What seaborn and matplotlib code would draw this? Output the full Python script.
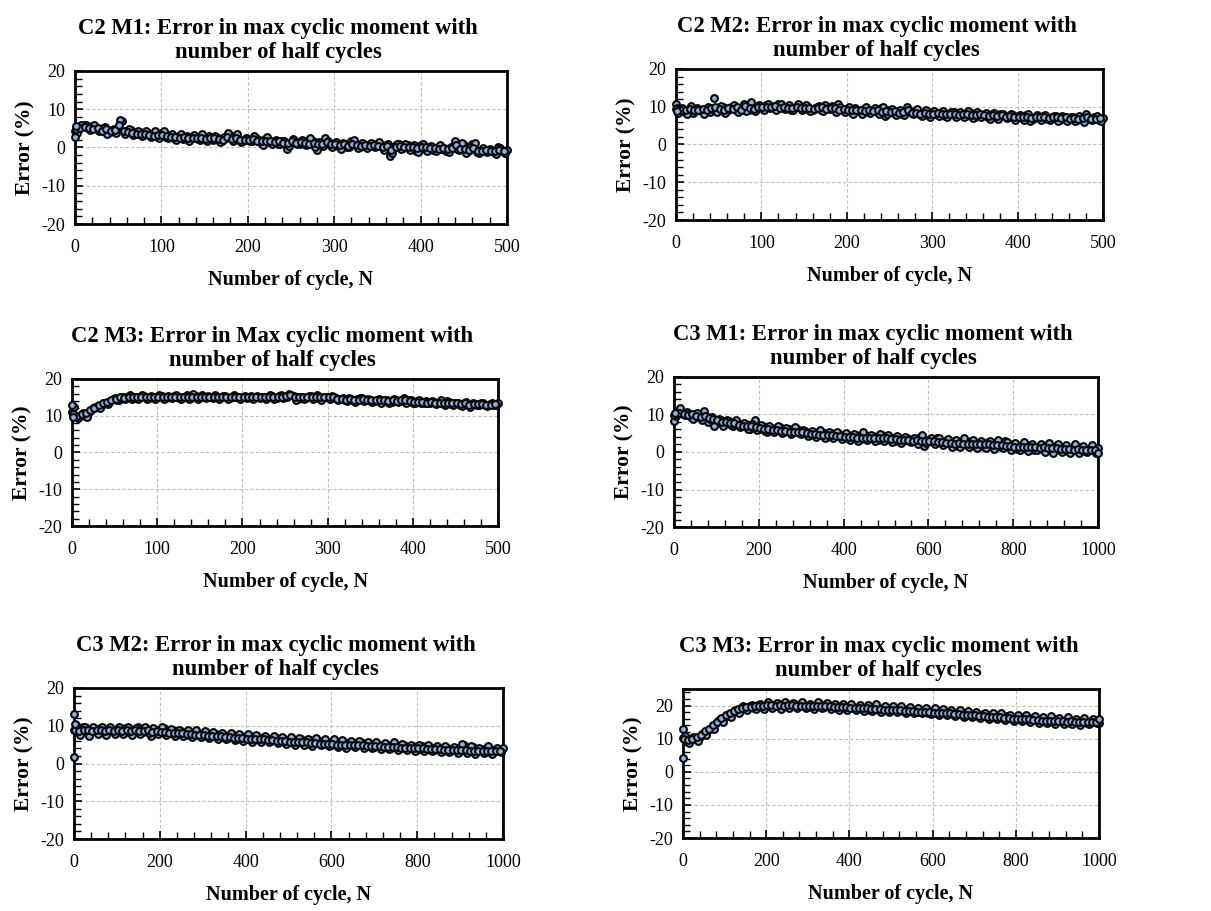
import numpy as np
import pandas as pd
import matplotlib
matplotlib.use("Agg")
import matplotlib.pyplot as plt
from matplotlib.ticker import MultipleLocator
import seaborn as sns

# ---------------- data ----------------
titles = [
    "C2 M1: Error in max cyclic moment with\nnumber of half cycles",
    "C2 M2: Error in max cyclic moment with\nnumber of half cycles",
    "C2 M3: Error in Max cyclic moment with\nnumber of half cycles",
    "C3 M1: Error in max cyclic moment with\nnumber of half cycles",
    "C3 M2: Error in max cyclic moment with\nnumber of half cycles",
    "C3 M3: Error in max cyclic moment with\nnumber of half cycles",
]
x_label = "Number of cycle, N"
y_label = "Error (%)"

# three interleaved samplings of the cycle axis
c2_cycles_a = np.arange(0, 501, 5)
c2_cycles_b = np.arange(2.5, 500, 5)
c2_cycles_c = np.arange(1.25, 500, 5)
c3_cycles_a = np.arange(0, 1001, 10)
c3_cycles_b = np.arange(5, 1000, 10)
c3_cycles_c = np.arange(2.5, 1000, 10)

c2m1_a = [4.2, 5.3, 5.8, 5.0, 5.6, 5.2, 4.6, 5.4, 4.0, 4.8, 5.0, 6.8, 4.2, 4.6, 3.6, 4.0, 3.2, 3.8, 3.0, 3.6,
          3.8, 2.8, 3.2, 2.6, 3.0, 2.2, 3.0, 2.4, 2.8, 2.0, 2.6, 3.0, 2.0, 2.6, 1.8, 2.4, 3.2, 2.6, 2.0, 1.6,
          2.2, 1.8, 2.6, 1.2, 2.2, 1.4, 1.8, 1.0, 1.6, -0.4, 1.4, 1.8, 0.8, 1.6, 1.0, 1.8, -0.6, 1.2, 2.4, 0.6,
          1.0, 0.4, 1.2, 0.2, 1.6, 0.6, 0.2, 1.0, 0.4, 0.8, 1.0, 0.2, 0.6, -2.2, 0.4, 0.8, -0.2, 0.6, 0.0, -0.8,
          0.6, -0.4, 0.2, -0.6, 0.0, -0.4, -0.8, 0.2, 1.8, -0.6, 0.6, -1.0, 0.8, -1.2, -0.6, -1.0, -0.4, -1.2, 0.2, -1.0,
          -0.6]
c2m1_b = [3.8, 5.8, 6.0, 4.6, 5.8, 4.4, 5.2, 3.4, 4.6, 3.8,
          7.2, 3.6, 4.8, 3.2, 4.4, 3.0, 4.2, 2.8, 4.2, 2.6,
          4.4, 2.4, 3.4, 2.0, 3.4, 2.6, 1.8, 3.2, 2.2, 3.4,
          1.6, 2.4, 3.0, 1.4, 2.8, 3.8, 1.8, 3.4, 1.4, 2.4,
          1.6, 3.0, 2.0, 0.6, 2.8, 1.0, 2.0, 0.8, 1.8, 0.4,
          2.2, 0.8, 2.0, 0.6, 2.4, 0.2, 1.4, 0.4, 1.8, 0.2,
          1.4, -0.4, 1.0, 0.0, 2.0, -0.2, 1.2, -0.2, 1.2, 0.0,
          1.4, -0.6, 0.8, -1.4, 1.0, -0.4, 0.8, -0.6, 0.6, -1.2,
          0.8, -0.8, 0.4, -1.0, 0.6, -0.2, -1.2, 0.4, -0.4, 1.2,
          -1.4, 0.2, 1.2, -1.4, -0.2, -1.2, -0.8, -1.6, -0.2, -1.4]
c2m1_c = [4.8, 5.0, 5.4, 5.2, 4.8, 5.0, 4.4, 4.8, 4.2, 4.6,
          5.8, 4.2, 4.0, 3.8, 3.6, 3.4, 3.6, 3.2, 3.0, 3.2,
          3.2, 3.0, 2.8, 2.8, 2.6, 2.8, 2.4, 2.6, 2.4, 2.6,
          2.2, 2.6, 2.4, 2.2, 2.0, 2.8, 2.2, 2.6, 2.0, 2.0,
          2.0, 2.2, 1.8, 1.6, 1.8, 1.6, 1.4, 1.6, 1.2, 1.2,
          1.6, 1.2, 1.4, 1.2, 1.0, 1.2, 0.8, 1.0, 1.4, 0.8,
          0.8, 0.6, 0.8, 0.4, 0.8, 0.6, 0.4, 0.6, 0.4, 0.6,
          0.4, 0.2, 0.4, -0.6, 0.2, 0.4, 0.0, 0.2, 0.0, -0.2,
          0.0, 0.0, -0.2, -0.2, -0.4, -0.2, -0.4, -0.2, 0.6, -0.4,
          -0.4, -0.6, -0.2, -0.8, -0.8, -0.6, -1.0, -0.8, -0.6, -0.8]

c2m2_a = [10.8, 9.0, 8.6, 9.4, 8.4, 9.6, 8.8, 9.2, 8.6, 12.2, 9.0, 9.8, 8.8, 10.0, 9.2, 9.6, 10.8, 9.0, 9.8, 9.4,
          10.0, 10.4, 9.6, 10.2, 10.6, 9.8, 10.0, 9.2, 9.8, 10.2, 9.4, 10.0, 9.2, 9.8, 9.0, 10.4, 9.4, 9.8, 10.6, 9.0,
          9.4, 8.6, 9.6, 8.8, 9.4, 8.6, 9.2, 8.8, 9.6, 7.6, 9.0, 8.4, 8.8, 8.2, 9.8, 8.6, 8.8, 8.0, 8.6, 7.8,
          8.6, 8.0, 8.4, 7.6, 8.2, 8.6, 7.8, 8.2, 7.6, 8.4, 7.4, 8.2, 7.8, 7.2, 8.0, 7.4, 8.2, 7.6, 7.2, 7.8,
          7.4, 7.0, 7.8, 6.2, 7.4, 7.0, 7.6, 6.8, 7.2, 7.6, 6.6, 7.4, 6.8, 7.2, 6.6, 7.0, 8.0, 6.8, 7.2, 6.6,
          7.0]
c2m2_b = [8.4, 9.6, 8.2, 10.2, 8.8, 9.2, 8.2, 10.0, 9.4, 8.6,
          10.2, 8.4, 9.4, 10.4, 8.6, 9.2, 8.8, 11.2, 8.8, 10.4,
          9.2, 10.8, 9.8, 9.2, 10.8, 9.4, 10.4, 9.0, 10.6, 9.2,
          10.4, 8.8, 9.6, 10.2, 8.8, 9.6, 10.2, 8.6, 9.8, 8.6,
          10.0, 8.2, 9.0, 8.2, 9.8, 8.4, 9.6, 8.2, 10.0, 8.0,
          9.4, 7.8, 9.2, 7.8, 9.0, 8.2, 9.4, 7.6, 9.0, 7.4,
          8.8, 7.6, 8.8, 7.2, 8.6, 7.4, 8.6, 7.2, 8.8, 7.0,
          8.6, 7.2, 8.4, 6.8, 8.4, 6.8, 8.0, 7.0, 8.2, 6.6,
          7.8, 6.6, 8.0, 6.8, 7.8, 6.4, 7.8, 6.4, 7.6, 6.2,
          7.6, 6.2, 7.4, 6.2, 7.6, 6.0, 7.4, 6.4, 7.6, 6.2]
c2m2_c = [9.6, 9.2, 9.0, 9.4, 9.0, 9.2, 9.4, 9.0, 9.6, 9.8,
          9.4, 9.2, 9.6, 9.4, 9.8, 9.2, 10.2, 9.6, 9.4, 9.8,
          9.8, 10.0, 9.8, 10.2, 9.6, 9.8, 9.6, 9.6, 9.8, 9.6,
          9.6, 9.6, 9.4, 9.6, 9.8, 9.4, 9.6, 9.6, 9.2, 9.4,
          9.0, 9.2, 9.0, 9.2, 8.8, 9.0, 8.8, 9.0, 8.6, 8.8,
          8.6, 8.8, 8.4, 8.6, 9.0, 8.4, 8.4, 8.2, 8.4, 8.2,
          8.2, 8.4, 8.0, 8.2, 8.0, 8.2, 7.8, 8.0, 8.2, 7.8,
          7.8, 8.0, 7.8, 7.6, 7.8, 7.6, 7.8, 7.4, 7.6, 7.4,
          7.4, 7.2, 7.4, 7.0, 7.4, 7.2, 7.4, 7.0, 7.2, 7.2,
          7.0, 7.2, 6.8, 7.0, 6.8, 7.0, 7.4, 6.8, 6.8, 7.0]

c2m3_a = [11.0, 9.8, 10.2, 10.0, 11.0, 12.0, 12.6, 13.0, 13.6, 14.0, 14.8, 14.4, 15.0, 15.2, 14.6, 15.2, 15.0, 15.4, 14.8, 15.2,
          15.0, 15.4, 14.8, 15.2, 15.4, 14.8, 15.2, 15.6, 14.8, 15.4, 15.2, 15.0, 15.4, 14.8, 15.2, 15.0, 15.4, 14.8, 15.6, 15.0,
          15.2, 14.8, 15.4, 15.0, 14.8, 15.2, 15.0, 15.4, 14.8, 15.6, 15.2, 16.0, 15.4, 14.6, 15.2, 14.8, 15.4, 14.8, 15.2, 14.8,
          15.0, 15.4, 14.8, 14.6, 14.2, 14.8, 14.2, 14.6, 14.8, 14.2, 14.4, 14.0, 14.6, 14.0, 14.4, 13.8, 14.4, 14.0, 14.8, 14.2,
          13.6, 14.0, 13.6, 14.0, 13.4, 13.8, 13.4, 13.8, 14.0, 13.2, 13.6, 13.0, 13.6, 12.8, 13.4, 13.0, 13.4, 12.8, 13.2, 13.0,
          13.6]
c2m3_b = [12.4, 9.4, 10.8, 9.6, 11.6, 12.4, 12.2, 13.6, 13.2, 14.6,
          14.2, 15.0, 14.6, 15.6, 14.8, 14.6, 15.6, 14.6, 15.4, 14.6,
          15.6, 14.6, 15.4, 14.8, 15.6, 14.6, 15.0, 14.6, 15.8, 14.6,
          15.6, 14.8, 15.2, 15.6, 14.6, 15.4, 14.6, 15.2, 15.0, 14.6,
          15.4, 15.0, 14.6, 15.4, 15.2, 14.6, 15.6, 14.6, 15.4, 14.8,
          15.0, 15.6, 14.4, 15.2, 14.6, 15.4, 14.6, 15.6, 14.4, 15.2,
          14.6, 15.2, 14.2, 14.8, 14.0, 14.6, 13.8, 14.8, 14.0, 14.6,
          13.8, 14.4, 13.6, 14.4, 13.6, 14.6, 13.8, 14.4, 13.6, 14.2,
          13.4, 14.2, 13.4, 13.6, 14.0, 13.2, 14.2, 13.0, 13.8, 12.8,
          13.4, 12.6, 13.8, 12.4, 13.2, 12.8, 13.6, 12.6, 13.4, 12.8]
c2m3_c = [10.4, 10.0, 10.4, 10.8, 11.6, 12.2, 12.8, 13.4, 13.8, 14.4,
          14.6, 15.0, 14.8, 15.0, 15.0, 15.2, 15.0, 15.2, 15.0, 15.2,
          15.2, 15.0, 15.2, 15.0, 15.2, 15.0, 15.2, 15.2, 15.0, 15.2,
          15.2, 15.0, 15.2, 15.0, 15.2, 15.2, 15.0, 15.2, 15.0, 15.2,
          15.0, 15.2, 15.0, 15.2, 15.0, 15.0, 15.2, 15.0, 15.2, 15.2,
          15.4, 15.6, 15.0, 15.0, 15.0, 15.2, 15.0, 15.0, 15.0, 15.0,
          15.0, 15.0, 14.6, 14.6, 14.4, 14.6, 14.4, 14.4, 14.6, 14.4,
          14.2, 14.2, 14.4, 14.2, 14.0, 14.2, 14.0, 14.2, 14.4, 14.0,
          13.8, 13.8, 13.8, 13.6, 13.8, 13.6, 13.6, 13.6, 13.6, 13.6,
          13.4, 13.2, 13.4, 13.0, 13.2, 13.2, 13.2, 13.0, 13.0, 13.2]

c3m1_a = [8.2, 11.0, 10.2, 10.6, 9.4, 10.0, 9.2, 10.8, 8.0, 9.4, 7.8, 8.6, 7.4, 8.2, 7.0, 7.8, 6.8, 7.4, 6.2, 8.4,
          6.0, 6.8, 5.4, 6.4, 5.8, 6.6, 5.2, 6.0, 5.4, 6.2, 4.8, 5.6, 4.4, 5.2, 4.6, 5.4, 4.0, 5.0, 4.2, 4.8,
          3.6, 4.6, 3.8, 4.4, 3.4, 4.6, 3.6, 4.2, 3.2, 4.4, 3.4, 4.0, 2.8, 3.8, 3.0, 3.6, 2.6, 3.4, 4.0, 1.6,
          3.2, 2.6, 3.6, 2.4, 3.0, 2.2, 2.8, 1.6, 2.6, 1.8, 2.8, 1.6, 2.4, 1.4, 2.6, 1.8, 2.4, 1.2, 2.8, 1.4,
          2.0, 0.8, 1.8, 1.0, 1.6, 0.6, 1.4, 0.8, 1.6, 0.6, 1.6, 0.4, 1.2, 0.2, 1.0, 0.4, 1.2, 0.2, 0.8, 0.4,
          1.0]
c3m1_b = [9.6, 11.6, 9.8, 10.2, 8.8, 10.4, 8.6, 9.6, 8.8, 7.0,
          8.8, 6.8, 8.6, 7.2, 8.4, 6.6, 7.8, 6.2, 7.4, 5.8,
          7.2, 5.6, 6.8, 5.2, 6.8, 5.0, 6.4, 4.8, 6.6, 5.0,
          5.8, 4.2, 5.6, 4.0, 5.8, 3.8, 5.2, 3.6, 5.4, 3.4,
          5.0, 3.2, 4.8, 3.0, 5.2, 3.2, 4.6, 3.0, 4.8, 2.8,
          4.4, 2.6, 4.2, 2.4, 4.0, 2.8, 3.8, 2.2, 4.4, 2.4,
          3.8, 2.0, 3.6, 1.8, 3.4, 1.4, 3.2, 1.2, 3.6, 1.2,
          3.2, 1.0, 3.0, 1.0, 3.0, 0.8, 3.2, 1.0, 2.6, 0.6,
          2.4, 0.4, 2.6, 0.2, 2.2, 0.4, 2.0, 0.0, 2.4, -0.2,
          2.2, 0.0, 1.8, -0.4, 2.0, -0.2, 1.6, 0.0, 1.8, -0.2]
c3m1_c = [10.2, 10.4, 10.2, 9.8, 10.0, 9.6, 9.4, 9.6, 9.0, 8.8,
          8.4, 8.0, 8.0, 7.6, 7.6, 7.2, 7.0, 7.0, 6.8, 6.6,
          6.4, 6.2, 6.0, 5.8, 5.8, 5.6, 5.6, 5.4, 5.4, 5.2,
          5.2, 5.0, 4.8, 4.8, 4.6, 4.6, 4.4, 4.4, 4.2, 4.2,
          4.0, 4.0, 4.0, 3.8, 3.8, 3.8, 3.8, 3.6, 3.6, 3.6,
          3.6, 3.4, 3.4, 3.2, 3.2, 3.2, 3.0, 3.2, 3.0, 2.8,
          2.8, 2.8, 2.6, 2.6, 2.4, 2.4, 2.2, 2.4, 2.2, 2.2,
          2.2, 2.0, 2.0, 2.0, 2.0, 1.8, 1.8, 1.8, 1.6, 1.6,
          1.4, 1.4, 1.4, 1.2, 1.2, 1.2, 1.0, 1.2, 1.0, 1.0,
          1.0, 0.8, 0.8, 0.8, 0.6, 0.8, 0.6, 0.6, 0.6, 0.6]

c3m2_a = [9.0, 8.4, 9.6, 8.0, 9.2, 8.6, 9.4, 8.2, 9.0, 8.6, 9.2, 8.4, 9.4, 8.2, 9.0, 9.8, 8.4, 9.2, 7.2, 8.8,
          8.4, 9.4, 8.0, 8.8, 7.8, 8.6, 7.6, 8.4, 7.6, 8.2, 7.4, 8.0, 7.2, 7.8, 7.0, 7.6, 6.8, 7.6, 6.6, 7.4,
          6.6, 7.2, 6.2, 7.0, 6.4, 6.8, 6.0, 6.8, 6.2, 6.6, 5.8, 6.6, 5.6, 6.4, 5.2, 6.2, 5.4, 6.0, 5.2, 5.8,
          5.0, 5.8, 4.8, 5.6, 5.0, 5.4, 4.8, 5.6, 4.6, 5.2, 4.4, 5.0, 4.4, 4.8, 4.2, 5.0, 4.2, 4.8, 4.0, 4.6,
          3.6, 4.6, 3.8, 4.4, 3.6, 4.2, 3.4, 4.0, 3.6, 4.2, 3.4, 4.8, 3.2, 4.4, 3.4, 3.8, 3.0, 3.8, 3.2, 3.6,
          4.2]
c3m2_b = [10.2, 7.6, 9.8, 7.4, 9.8, 7.8, 9.6, 7.6, 9.8, 7.8,
          9.6, 7.8, 9.8, 7.6, 9.4, 7.8, 9.6, 8.0, 9.4, 7.8,
          9.8, 7.6, 9.2, 7.4, 9.0, 7.2, 9.0, 7.0, 8.8, 7.0,
          8.6, 6.8, 8.4, 6.6, 8.2, 6.4, 8.0, 6.2, 7.8, 6.0,
          7.8, 5.8, 7.6, 5.8, 7.2, 5.6, 7.2, 5.4, 7.0, 5.2,
          7.0, 5.0, 6.8, 4.8, 6.6, 4.6, 6.8, 4.8, 6.4, 4.6,
          6.4, 4.4, 6.2, 4.2, 6.0, 4.4, 6.0, 4.2, 5.8, 4.0,
          5.8, 3.8, 5.4, 3.8, 5.6, 3.6, 5.2, 3.6, 5.0, 3.4,
          5.0, 3.2, 4.8, 3.2, 4.6, 3.0, 4.6, 3.0, 4.4, 2.8,
          5.2, 2.8, 4.6, 2.6, 4.2, 2.8, 4.6, 2.6, 4.0, 3.0]
c3m2_c = [9.0, 8.6, 8.8, 8.8, 8.6, 8.8, 8.8, 8.6, 8.8, 8.6,
          8.8, 8.6, 8.8, 8.6, 8.8, 8.6, 8.6, 8.8, 8.4, 8.6,
          8.4, 8.4, 8.2, 8.2, 8.0, 8.0, 7.8, 7.8, 7.6, 7.6,
          7.6, 7.4, 7.4, 7.2, 7.2, 7.0, 7.0, 6.8, 6.8, 6.8,
          6.6, 6.6, 6.4, 6.4, 6.4, 6.2, 6.2, 6.0, 6.0, 6.0,
          5.8, 5.8, 5.6, 5.6, 5.6, 5.4, 5.4, 5.2, 5.2, 5.2,
          5.2, 5.0, 5.0, 5.0, 4.8, 4.8, 4.8, 4.8, 4.6, 4.6,
          4.6, 4.6, 4.4, 4.4, 4.4, 4.4, 4.2, 4.2, 4.2, 4.0,
          4.0, 4.0, 3.8, 3.8, 3.8, 3.8, 3.6, 3.6, 3.6, 3.6,
          3.6, 3.6, 3.4, 3.4, 3.4, 3.4, 3.4, 3.2, 3.4, 3.4]

c3m3_a = [10.2, 9.2, 9.6, 10.0, 10.6, 11.8, 12.6, 13.6, 14.6, 15.8, 16.4, 17.4, 18.2, 18.8, 19.4, 19.2, 19.8, 19.4, 20.2, 19.6,
          20.0, 20.6, 19.8, 20.4, 19.6, 20.2, 19.8, 20.6, 19.8, 20.2, 19.6, 20.0, 19.6, 20.4, 19.6, 20.2, 19.8, 19.4, 20.0, 19.4,
          19.8, 19.2, 19.6, 19.0, 19.4, 18.8, 19.6, 18.8, 19.2, 18.6, 19.2, 18.6, 19.0, 18.4, 19.0, 18.4, 18.8, 18.2, 18.8, 17.8,
          18.4, 17.8, 18.4, 17.6, 18.2, 17.4, 18.0, 17.2, 17.8, 17.0, 17.4, 16.8, 17.4, 16.6, 17.2, 16.4, 17.0, 16.2, 16.8, 16.0,
          16.6, 15.8, 16.4, 15.6, 16.2, 15.6, 16.0, 15.4, 15.8, 15.0, 15.8, 15.2, 15.6, 14.8, 15.4, 15.0, 15.4, 14.8, 15.2, 15.0,
          14.6]
c3m3_b = [10.8, 8.6, 10.4, 9.2, 11.4, 11.0, 13.0, 12.8, 15.2, 15.0,
          17.2, 16.4, 18.8, 17.6, 20.0, 18.6, 20.2, 19.0, 20.6, 19.0,
          21.0, 19.2, 20.8, 19.0, 21.2, 19.2, 20.8, 19.2, 21.0, 19.2,
          20.6, 19.0, 21.0, 19.2, 20.8, 19.0, 20.6, 18.8, 20.6, 18.8,
          20.4, 18.6, 20.2, 18.4, 20.2, 18.4, 20.4, 18.2, 19.8, 18.2,
          19.8, 18.0, 19.8, 17.8, 19.6, 17.8, 19.4, 17.6, 19.2, 17.4,
          19.2, 17.2, 19.0, 17.0, 18.8, 16.8, 18.6, 16.6, 18.4, 16.4,
          18.2, 16.2, 17.8, 16.0, 17.8, 15.8, 17.6, 15.6, 17.2, 15.4,
          17.2, 15.2, 17.0, 15.0, 16.8, 14.8, 16.6, 14.8, 16.8, 14.4,
          16.2, 14.4, 16.4, 14.4, 16.0, 14.2, 16.2, 14.4, 15.8, 14.6]
c3m3_c = [10.0, 9.6, 10.0, 10.4, 11.2, 12.2, 13.0, 14.0, 15.0, 16.2,
          17.0, 17.8, 18.4, 19.0, 19.2, 19.6, 19.6, 19.8, 20.0, 20.0,
          20.2, 20.2, 20.0, 20.2, 20.0, 20.2, 20.2, 20.0, 20.0, 20.0,
          20.0, 19.8, 20.0, 19.8, 19.8, 19.8, 19.6, 19.6, 19.6, 19.6,
          19.4, 19.4, 19.4, 19.2, 19.2, 19.0, 19.0, 19.0, 18.8, 18.8,
          18.8, 18.6, 18.6, 18.4, 18.4, 18.4, 18.2, 18.2, 18.0, 18.0,
          17.8, 17.8, 17.8, 17.6, 17.6, 17.4, 17.4, 17.2, 17.2, 17.0,
          17.0, 16.8, 16.8, 16.6, 16.6, 16.4, 16.4, 16.2, 16.2, 16.0,
          16.0, 15.8, 15.8, 15.8, 15.6, 15.6, 15.4, 15.4, 15.4, 15.2,
          15.2, 15.2, 15.0, 15.2, 15.0, 15.0, 15.0, 15.0, 15.0, 15.0]

# extra scattered points (start-up outliers / end points)
c2m1_extra_x, c2m1_extra_y = [0, 1], [2.8, 5.6]
c2m2_extra_x, c2m2_extra_y = [0, 1], [9.4, 8.8]
c2m3_extra_x, c2m3_extra_y = [0, 1, 1], [12.8, 10.6, 9.6]
c3m1_extra_x, c3m1_extra_y = [0, 2, 1000], [9.8, 10.4, -0.2]
c3m2_extra_x, c3m2_extra_y = [0, 0, 2], [13.2, 1.6, 10.4]
c3m3_extra_x, c3m3_extra_y = [0, 0, 1000], [12.8, 4.2, 16.0]

series = [
    ([c2_cycles_a, c2_cycles_b, c2_cycles_c, c2m1_extra_x], [c2m1_a, c2m1_b, c2m1_c, c2m1_extra_y]),
    ([c2_cycles_a, c2_cycles_b, c2_cycles_c, c2m2_extra_x], [c2m2_a, c2m2_b, c2m2_c, c2m2_extra_y]),
    ([c2_cycles_a, c2_cycles_b, c2_cycles_c, c2m3_extra_x], [c2m3_a, c2m3_b, c2m3_c, c2m3_extra_y]),
    ([c3_cycles_a, c3_cycles_b, c3_cycles_c, c3m1_extra_x], [c3m1_a, c3m1_b, c3m1_c, c3m1_extra_y]),
    ([c3_cycles_a, c3_cycles_b, c3_cycles_c, c3m2_extra_x], [c3m2_a, c3m2_b, c3m2_c, c3m2_extra_y]),
    ([c3_cycles_a, c3_cycles_b, c3_cycles_c, c3m3_extra_x], [c3m3_a, c3m3_b, c3m3_c, c3m3_extra_y]),
]

# ---------------- style ----------------
sns.set_style("white")
plt.rcParams['font.family'] = ['Liberation Serif', 'DejaVu Serif']
plt.rcParams['axes.unicode_minus'] = False
plt.rcParams['text.color'] = 'black'
plt.rcParams['axes.labelcolor'] = 'black'
plt.rcParams['xtick.color'] = 'black'
plt.rcParams['ytick.color'] = 'black'

fig = plt.figure(figsize=(12.11, 9.11), dpi=100)

# axes rectangles (figure fraction)
rects = [
    [0.0619, 0.7541, 0.3567, 0.1680],
    [0.5582, 0.7585, 0.3526, 0.1658],
    [0.0595, 0.4226, 0.3518, 0.1614],
    [0.5566, 0.4215, 0.3501, 0.1647],
    [0.0611, 0.0790, 0.3543, 0.1658],
    [0.5640, 0.0801, 0.3435, 0.1636],
]
xmax = [500, 500, 500, 1000, 1000, 1000]
ytop = [20, 20, 20, 20, 20, 25]

face = "#8DB4E2"
for i, (xs, ys) in enumerate(series):
    for xx, yy in zip(xs, ys):
        assert len(xx) == len(yy), (i, len(xx), len(yy))
    ax = fig.add_axes(rects[i])
    df = pd.DataFrame({"N": np.concatenate(xs), "err": np.concatenate(ys)})
    sns.scatterplot(data=df, x="N", y="err", ax=ax, s=24, color=face,
                    edgecolor="#0a0a0a", linewidth=1.5, zorder=3, clip_on=False)
    ax.set_xlim(0, xmax[i])
    ax.set_ylim(-20, ytop[i])
    ax.xaxis.set_major_locator(MultipleLocator(xmax[i] / 5))
    ax.xaxis.set_minor_locator(MultipleLocator(xmax[i] / 25))
    ax.yaxis.set_major_locator(MultipleLocator(10))
    ax.yaxis.set_minor_locator(MultipleLocator(2))
    ax.grid(True, which="major", color="#BFBFBF", linestyle=(0, (3, 2)), linewidth=0.8)
    ax.set_axisbelow(True)
    for sp in ax.spines.values():
        sp.set_visible(True)
        sp.set_color("black")
        sp.set_linewidth(2.0)
    ax.tick_params(which="both", direction="in", bottom=True, left=True,
                   top=False, right=False, colors="black")
    ax.tick_params(which="major", length=6, width=1.2, labelsize=13)
    ax.tick_params(which="minor", length=5, width=1.0)
    ax.tick_params(axis="x", which="major", pad=11)
    ax.tick_params(axis="y", which="major", pad=7)
    ax.set_xlabel(x_label, fontsize=14.5, fontweight="bold", labelpad=10)
    ax.set_ylabel(y_label, fontsize=15.5, fontweight="bold", labelpad=4)
    ax.set_title(titles[i], fontsize=16.3, fontweight="bold", x=0.47, pad=9,
                 linespacing=1.2)

fig.savefig("out.png", dpi=100)
